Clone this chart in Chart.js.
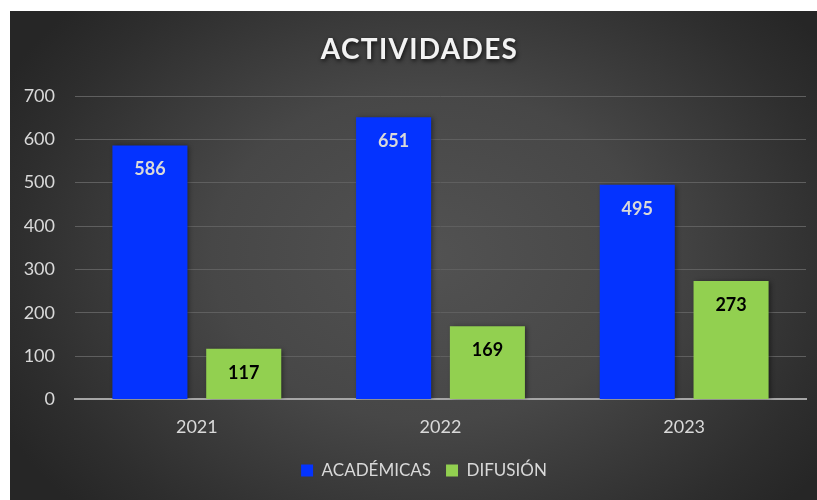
<!DOCTYPE html>
<html>
<head>
<meta charset="utf-8">
<script src="https://cdn.jsdelivr.net/npm/chart.js@4.4.0/dist/chart.umd.min.js"></script>
<style>
  html, body { margin: 0; padding: 0; background: #fff; }
  #wrap {
    position: absolute; left: 10px; top: 11px; width: 807px; height: 489px;
    background: radial-gradient(ellipse 60% 75% at 52% 50%, #525252 0%, #474747 45%, #2e2e2e 85%, #262626 100%);
  }
</style>
</head>
<body>
<div id="wrap"><canvas id="chart" width="807" height="489"></canvas></div>
<script>
// chart values
const years = ['2021', '2022', '2023'];
const academicas = [586, 651, 495];
const difusion = [117, 169, 273];
const seriesNames = ['ACADÉMICAS', 'DIFUSIÓN'];
const titleText = 'ACTIVIDADES';

const FONT = 'Lato, "Noto Sans", sans-serif';

// title drawn by hand so it can carry the soft shadow
const titlePlugin = {
    id: 'shadowTitle',
    afterDraw(chart) {
        const ctx = chart.ctx;
        ctx.save();
        ctx.font = `bold 28px ${FONT}`;
        ctx.fillStyle = '#f2f2f2';
        ctx.textAlign = 'center';
        ctx.textBaseline = 'middle';
        ctx.shadowColor = 'rgba(0,0,0,0.75)';
        ctx.shadowBlur = 4;
        ctx.shadowOffsetX = 1;
        ctx.shadowOffsetY = 2;
        if (ctx.letterSpacing !== undefined) ctx.letterSpacing = '1.3px';
        ctx.fillText(titleText, chart.width / 2 + 6, 39);
        ctx.restore();
    }
};

// value labels inside the top of each bar
const valueLabels = {
    id: 'valueLabels',
    afterDatasetsDraw(chart) {
        const ctx = chart.ctx;
        ctx.save();
        ctx.font = `bold 18px ${FONT}`;
        ctx.textAlign = 'center';
        ctx.textBaseline = 'middle';
        chart.data.datasets.forEach((ds, i) => {
            const meta = chart.getDatasetMeta(i);
            ctx.fillStyle = ds.labelColor;
            meta.data.forEach((bar, j) => {
                ctx.fillText(String(ds.data[j]), bar.x, bar.y + 24);
            });
        });
        ctx.restore();
    }
};

// faint shadow behind the bars
const barShadow = {
    id: 'barShadow',
    beforeDatasetsDraw(chart) {
        const ctx = chart.ctx;
        ctx.save();
        ctx.shadowColor = 'rgba(0,0,0,0.45)';
        ctx.shadowBlur = 5;
        ctx.shadowOffsetX = 2;
        ctx.shadowOffsetY = 1;
    },
    afterDatasetsDraw(chart) {
        chart.ctx.restore();
    }
};

// the legend sits a little right of centre in the original
const legendNudge = {
    id: 'legendNudge',
    afterLayout(chart) {
        const lg = chart.legend;
        if (!lg) return;
        lg.left += 16;
        lg.right += 16;
    }
};

new Chart(document.getElementById('chart'), {
    type: 'bar',
    data: {
        labels: years,
        datasets: [
            {
                label: seriesNames[0],
                data: academicas,
                backgroundColor: '#0433ff',
                labelColor: '#d9d9d9',
                categoryPercentage: 0.77,
                barPercentage: 0.8
            },
            {
                label: seriesNames[1],
                data: difusion,
                backgroundColor: '#92d050',
                labelColor: '#000000',
                categoryPercentage: 0.77,
                barPercentage: 0.8
            }
        ]
    },
    options: {
        responsive: false,
        animation: false,
        layout: { padding: { top: 85, right: 11, left: 0, bottom: 11 } },
        plugins: {
            title: { display: false },
            tooltip: { enabled: false },
            legend: {
                position: 'bottom',
                labels: {
                    color: '#d9d9d9',
                    font: { family: FONT, size: 17 },
                    boxWidth: 12,
                    boxHeight: 12,
                    padding: 15,
                    useBorderRadius: false
                }
            }
        },
        scales: {
            x: {
                grid: { display: false },
                border: { display: true, color: '#a6a6a6', width: 2 },
                ticks: { color: '#d9d9d9', font: { family: FONT, size: 18 }, padding: 9 }
            },
            y: {
                min: 0,
                max: 700,
                afterFit(scale) { scale.width = 65; },
                ticks: { stepSize: 100, color: '#d9d9d9', font: { family: FONT, size: 18 }, padding: 20 },
                grid: { color: '#5f5f5f', lineWidth: 1, drawTicks: false },
                border: { display: false }
            }
        }
    },
    plugins: [barShadow, valueLabels, titlePlugin, legendNudge]
});
</script>
</body>
</html>
